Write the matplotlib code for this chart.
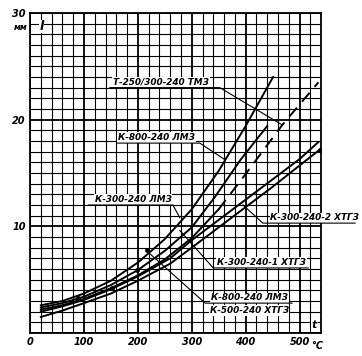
import matplotlib
matplotlib.use("Agg")
import matplotlib.pyplot as plt
from matplotlib.ticker import MultipleLocator

# ---- data ----
t_k800 = [20, 60, 100, 150, 200, 250, 300, 350, 400, 451]
l_k800 = [2.6, 3.0, 3.7, 4.9, 6.6, 8.8, 11.6, 15.2, 19.4, 24.0]

t_k300 = [20, 60, 100, 150, 200, 250, 300, 343, 390, 440]
l_k300 = [2.4, 2.8, 3.4, 4.5, 5.9, 7.7, 9.9, 12.75, 16.2, 19.4]

t_t250_solid = [20, 60, 100, 150, 200, 250, 300, 350]
l_t250_solid = [2.2, 2.6, 3.2, 4.2, 5.4, 6.9, 8.9, 11.6]
t_t250_dash = [350, 400, 468, 535]
l_t250_dash = [11.6, 14.9, 19.5, 23.5]

t_x2 = [20, 60, 100, 150, 200, 260, 300, 350, 400, 450, 500, 535]
l_x2 = [2.0, 2.5, 3.1, 4.1, 5.3, 7.0, 8.7, 10.6, 12.5, 14.4, 16.3, 17.9]

t_x1 = [20, 60, 100, 150, 200, 260, 300, 350, 400, 450, 500, 538]
l_x1 = [1.5, 2.1, 2.8, 3.7, 4.9, 6.5, 8.0, 9.9, 11.8, 13.7, 15.7, 17.2]

t_points = [89, 152, 198, 217, 538]
l_points = [3.3, 4.2, 5.9, 7.8, 17.2]

x_ticks = [0, 100, 200, 300, 400, 500]
x_ticklabels = ["0", "100", "200", "300", "400", "500"]
y_ticks = [0, 10, 20, 30]
y_ticklabels = ["", "10", "20", "30"]

labels = ["Т-250/300-240 ТМЗ", "К-800-240 ЛМЗ", "К-300-240 ЛМЗ",
          "К-300-240-2 ХТГЗ", "К-300-240-1 ХТГЗ", "К-800-240 ЛМЗ", "К-500-240 ХТГЗ"]

# ---- figure ----
fig = plt.figure(figsize=(3.62, 3.56), dpi=100)
ax = fig.add_axes([0.083, 0.0646, 0.804, 0.899])
ax.set_xlim(0, 540)
ax.set_ylim(0, 30)

ax.xaxis.set_minor_locator(MultipleLocator(20))
ax.yaxis.set_minor_locator(MultipleLocator(1))
ax.grid(which="minor", color="black", lw=0.8)
ax.grid(which="major", color="black", lw=1.3)
ax.set_axisbelow(True)
for s in ax.spines.values():
    s.set_linewidth(1.3)

ax.set_xticks(x_ticks)
ax.set_xticklabels(x_ticklabels)
ax.set_yticks(y_ticks)
ax.set_yticklabels(y_ticklabels)
ax.tick_params(which="both", length=0, labelsize=7, pad=3)
for lab in ax.get_xticklabels() + ax.get_yticklabels():
    lab.set_fontstyle("italic")
    lab.set_fontweight("bold")

lw = 1.4
ax.plot(t_k800, l_k800, color="black", lw=lw)
ax.plot(t_k300, l_k300, color="black", lw=lw)
ax.plot(t_t250_solid, l_t250_solid, color="black", lw=lw)
ax.plot(t_t250_dash, l_t250_dash, color="black", lw=lw, dashes=(6, 4))
ax.plot(t_x2, l_x2, color="black", lw=lw)
ax.plot(t_x1, l_x1, color="black", lw=lw)
ax.plot(t_points, l_points, "o", color="black", ms=2.5)

fs = 6.4
tk = dict(fontsize=fs, fontstyle="italic", fontweight="bold", color="black",
          clip_on=False, zorder=5,
          bbox=dict(facecolor="white", edgecolor="none", pad=0.6))
lk = dict(color="black", lw=0.8, clip_on=False, zorder=6)

# Т-250/300-240 ТМЗ
ax.text(154, 23.3, labels[0], **tk)
ax.plot([148, 352, 468], [23.0, 23.0, 19.5], **lk)
# К-800-240 ЛМЗ (upper)
ax.text(163, 18.1, labels[1], **tk)
ax.plot([161, 315, 360], [17.8, 17.8, 16.3], **lk)
# К-300-240 ЛМЗ
ax.text(120, 12.3, labels[2], **tk)
ax.plot([108, 265, 278], [12.0, 12.0, 10.8], **lk)
# К-300-240-2 ХТГЗ
ax.text(446, 10.55, labels[3], **tk)
ax.plot([395, 432, 603], [12.0, 10.3, 10.3], **lk)
# К-300-240-1 ХТГЗ
ax.text(347, 6.35, labels[4], **tk)
ax.plot([278, 340, 516], [9.6, 6.1, 6.1], **lk)
# К-800-240 ЛМЗ / К-500-240 ХТГЗ
ax.text(336, 3.05, labels[5], **tk)
ax.text(333, 1.9, labels[6], **tk)
ax.plot([223, 325, 486], [7.4, 2.8, 2.8], **lk)

# axis annotations
ax.text(523, 0.45, "t", fontsize=8, fontstyle="italic", fontweight="bold",
        zorder=5, bbox=dict(facecolor="white", edgecolor="none", pad=0.3))
ax.text(521, -0.72, "°C", fontsize=7, fontstyle="italic", fontweight="bold",
        va="top", clip_on=False)
ax.text(18, 28.4, "l", fontsize=9, fontstyle="italic", fontweight="bold",
        zorder=5, bbox=dict(facecolor="white", edgecolor="none", pad=0.3))
ax.text(-4, 28.4, "мм", fontsize=6, fontstyle="italic", fontweight="bold",
        ha="right", clip_on=False)

fig.savefig("out.png", dpi=100)
